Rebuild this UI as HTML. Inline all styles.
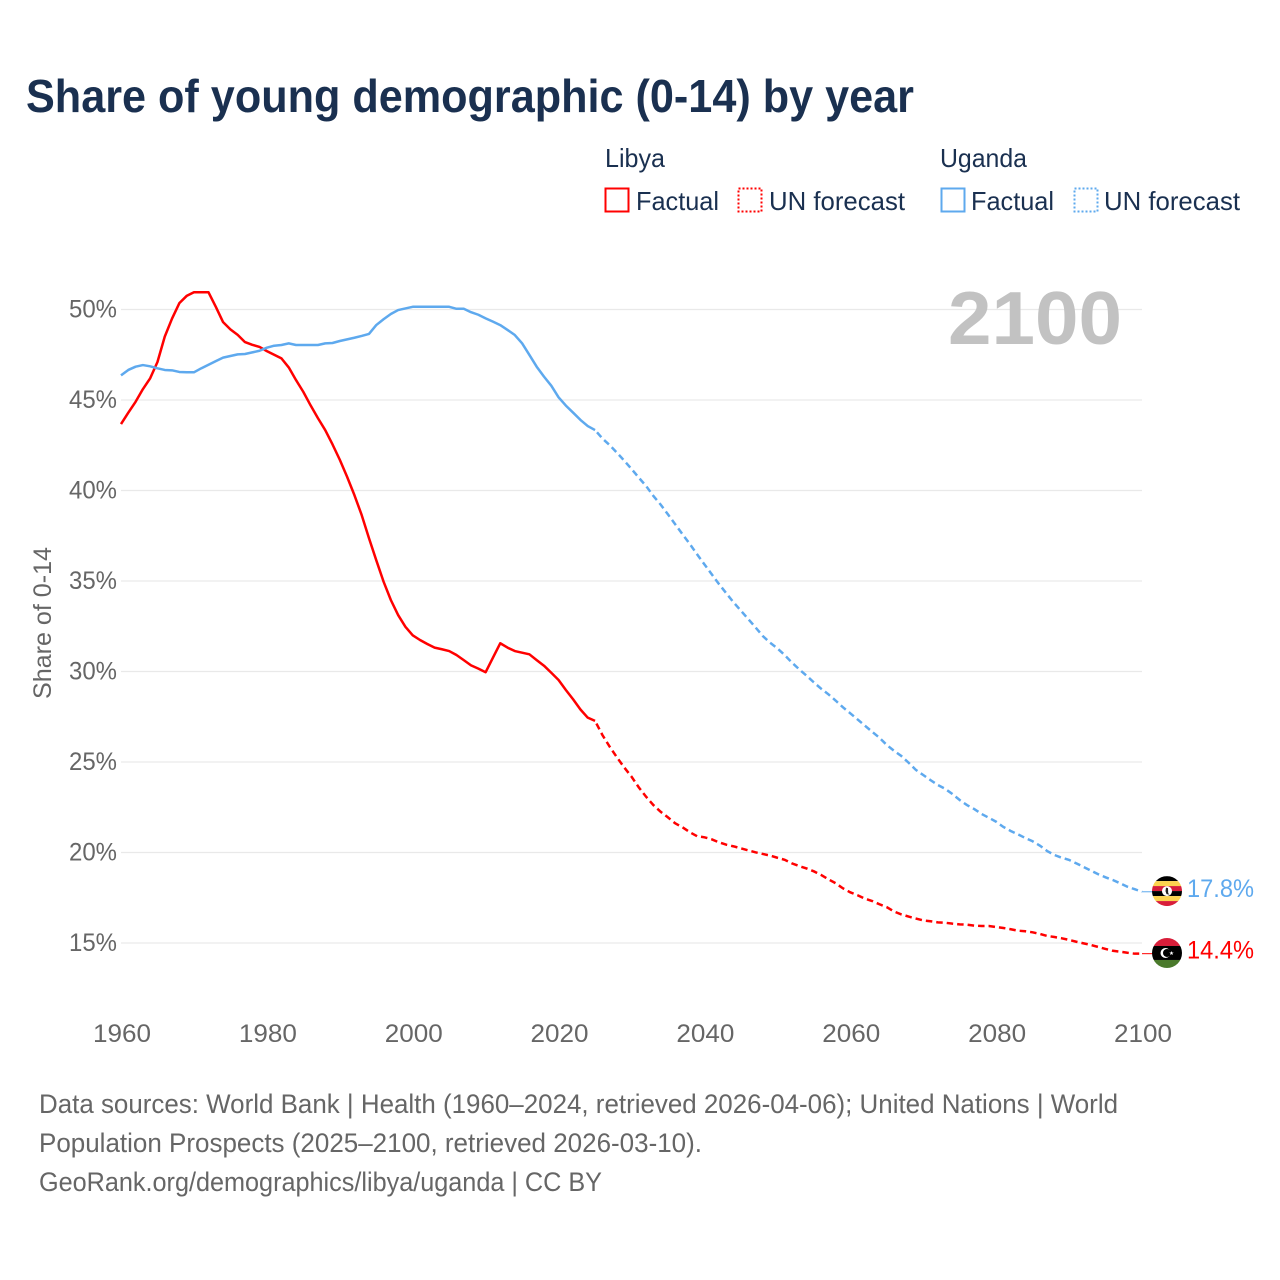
<!DOCTYPE html>
<html lang="en">
<head>
<meta charset="utf-8">
<title>Share of young demographic (0-14) by year</title>
<style>
html,body{margin:0;padding:0;background:#fff;}
#chart{display:block;width:1280px;height:1280px;font-family:"Liberation Sans",sans-serif;}
</style>
</head>
<body>
<svg id="chart" xmlns="http://www.w3.org/2000/svg" width="1280" height="1280" viewBox="0 0 1280 1280">
  <text x="26" y="112" font-size="46" font-weight="700" fill="#1a3050" textLength="888" lengthAdjust="spacingAndGlyphs">Share of young demographic (0-14) by year</text>

  <g font-size="26" fill="#1a3050">
    <text x="605" y="167" textLength="60" lengthAdjust="spacingAndGlyphs">Libya</text>
    <text x="940" y="167" textLength="87" lengthAdjust="spacingAndGlyphs">Uganda</text>
    <rect x="605.5" y="188.5" width="23" height="23" fill="none" stroke="#ff0000" stroke-width="2"/>
    <text x="636" y="210" textLength="83" lengthAdjust="spacingAndGlyphs">Factual</text>
    <rect x="738.5" y="188.5" width="23" height="23" fill="none" stroke="#ff0000" stroke-width="2" stroke-dasharray="2 2"/>
    <text x="769" y="210" textLength="136" lengthAdjust="spacingAndGlyphs">UN forecast</text>
    <rect x="941.5" y="188.5" width="23" height="23" fill="none" stroke="#5ea9ee" stroke-width="2"/>
    <text x="971" y="210" textLength="83" lengthAdjust="spacingAndGlyphs">Factual</text>
    <rect x="1074.5" y="188.5" width="23" height="23" fill="none" stroke="#5ea9ee" stroke-width="2" stroke-dasharray="2 2"/>
    <text x="1104" y="210" textLength="136" lengthAdjust="spacingAndGlyphs">UN forecast</text>
  </g>

  <g id="grid"></g>
  <text x="948" y="344" font-size="75" font-weight="700" fill="#c2c2c2" textLength="174" lengthAdjust="spacingAndGlyphs">2100</text>
  <g id="y-axis" font-size="25" fill="#666666" text-anchor="end"></g>
  <g id="x-axis" font-size="25" fill="#666666" text-anchor="middle"></g>
  <text transform="translate(51,623) rotate(-90)" font-size="25" fill="#666666" text-anchor="middle" textLength="152" lengthAdjust="spacingAndGlyphs">Share of 0-14</text>

  <g id="series" fill="none"></g>

  <g id="flag-uganda">
    <clipPath id="clip-ug"><circle r="15"/></clipPath>
    <g clip-path="url(#clip-ug)">
      <rect x="-15" y="-15" width="30" height="5" fill="#000"/>
      <rect x="-15" y="-10" width="30" height="5" fill="#fcd34f"/>
      <rect x="-15" y="-5" width="30" height="5" fill="#d81e3a"/>
      <rect x="-15" y="0" width="30" height="5" fill="#000"/>
      <rect x="-15" y="5" width="30" height="5" fill="#fcd34f"/>
      <rect x="-15" y="10" width="30" height="5" fill="#d81e3a"/>
      <circle r="5" fill="#fff"/>
      <path d="M-1 -3.5 L1 -3 L1.2 2 L2.5 3.5 L-0.5 3 L-1.5 0 Z" fill="#222"/>
    </g>
  </g>
  <g id="flag-libya">
    <clipPath id="clip-ly"><circle r="15"/></clipPath>
    <g clip-path="url(#clip-ly)">
      <rect x="-15" y="-15" width="30" height="8" fill="#d81e3a"/>
      <rect x="-15" y="-7" width="30" height="14" fill="#000"/>
      <rect x="-15" y="7" width="30" height="8" fill="#4a7a2c"/>
      <circle cx="-1.5" cy="0" r="5" fill="#fff"/>
      <circle cx="0" cy="0" r="4" fill="#000"/>
      <polygon points="4.5,-2 5.1,-0.5 6.7,-0.5 5.4,0.5 5.9,2 4.5,1.1 3.1,2 3.6,0.5 2.3,-0.5 3.9,-0.5" fill="#fff"/>
    </g>
  </g>
  <text id="end-label-uganda" x="1187" font-size="25" fill="#5ea9ee" textLength="67" lengthAdjust="spacingAndGlyphs">17.8%</text>
  <text id="end-label-libya" x="1187" font-size="25" fill="#ff0000" textLength="67" lengthAdjust="spacingAndGlyphs">14.4%</text>

  <g font-size="27" fill="#666666">
    <text x="39" y="1113" textLength="1079" lengthAdjust="spacingAndGlyphs">Data sources: World Bank | Health (1960–2024, retrieved 2026-04-06); United Nations | World</text>
    <text x="39" y="1152" textLength="663" lengthAdjust="spacingAndGlyphs">Population Prospects (2025–2100, retrieved 2026-03-10).</text>
    <text x="39" y="1191" textLength="563" lengthAdjust="spacingAndGlyphs">GeoRank.org/demographics/libya/uganda | CC BY</text>
  </g>
</svg>
<script>
const yTickValues = [50, 45, 40, 35, 30, 25, 20, 15];
const xTickYears = [1960, 1980, 2000, 2020, 2040, 2060, 2080, 2100];
const factualStartYear = 1960;
const forecastStartYear = 2025;

// Libya, 1960–2025
const libyaFactual = [
  43.67,44.3,44.9,45.6,46.2,47.1,48.5,49.5,50.35,50.75,
  50.95,50.95,50.95,50.15,49.3,48.9,48.6,48.2,48.05,47.93,
  47.7,47.5,47.3,46.8,46.1,45.45,44.7,44,43.34,42.55,
  41.7,40.76,39.75,38.65,37.37,36.15,34.97,33.95,33.12,32.47,
  32,31.74,31.52,31.32,31.23,31.13,30.91,30.63,30.34,30.16,
  29.96,30.76,31.56,31.32,31.13,31.04,30.95,30.63,30.32,29.93,
  29.53,28.98,28.46,27.9,27.45,27.27
];
// Libya, 2025–2100
const libyaForecast = [
  27.27,26.5,25.85,25.26,24.7,
  24.19,23.6,23.08,22.62,22.25,21.94,21.61,21.39,21.12,20.9,
  20.84,20.73,20.56,20.43,20.34,20.23,20.12,20.01,19.92,19.83,
  19.71,19.6,19.4,19.25,19.12,18.96,18.76,18.52,18.3,18.02,
  17.8,17.64,17.45,17.32,17.14,16.98,16.74,16.58,16.46,16.35,
  16.25,16.2,16.14,16.12,16.07,16.03,16.01,15.96,15.94,15.94,
  15.88,15.83,15.76,15.68,15.65,15.59,15.5,15.39,15.33,15.26,
  15.17,15.07,14.98,14.89,14.78,14.67,14.57,14.52,14.46,14.41,
  14.41
];
// Uganda, 1960–2025
const ugandaFactual = [
  46.36,46.66,46.84,46.93,46.86,46.75,46.66,46.64,46.55,46.53,
  46.53,46.75,46.95,47.15,47.34,47.43,47.52,47.54,47.63,47.72,
  47.89,48,48.04,48.13,48.04,48.04,48.04,48.04,48.13,48.15,
  48.26,48.35,48.44,48.54,48.65,49.14,49.46,49.75,49.97,50.06,
  50.15,50.15,50.15,50.15,50.15,50.15,50.04,50.04,49.85,49.71,
  49.51,49.33,49.14,48.87,48.59,48.13,47.49,46.84,46.29,45.79,
  45.15,44.69,44.3,43.9,43.56,43.34
];
// Uganda, 2025–2100
const ugandaForecast = [
  43.34,42.88,42.51,42.09,41.65,
  41.19,40.71,40.25,39.7,39.22,38.68,38.13,37.58,37.04,36.47,
  35.92,35.37,34.83,34.32,33.82,33.36,32.9,32.44,31.96,31.59,
  31.28,30.91,30.49,30.12,29.77,29.4,29.05,28.74,28.39,28.02,
  27.69,27.35,27.01,26.67,26.34,25.94,25.62,25.33,24.96,24.56,
  24.28,24,23.73,23.52,23.23,22.9,22.62,22.4,22.13,21.92,
  21.7,21.41,21.19,21,20.8,20.62,20.38,20.08,19.86,19.71,
  19.59,19.4,19.2,19,18.8,18.63,18.48,18.3,18.11,17.97,
  17.83
];

const NS = 'http://www.w3.org/2000/svg';
function xScale(year) { return 121 + (year - 1960) * (1142 - 121) / 140; }
function yScale(value) { return 309.5 + (50 - value) * (943 - 309.5) / 35; }
function pathFrom(startYear, values) {
  return values.map(function (v, i) {
    return (i ? 'L' : 'M') + xScale(startYear + i).toFixed(2) + ' ' + yScale(v).toFixed(2);
  }).join(' ');
}

const gridGroup = document.getElementById('grid');
const yAxisGroup = document.getElementById('y-axis');
yTickValues.forEach(function (v) {
  const line = document.createElementNS(NS, 'line');
  
  
  line.setAttribute('x1', xScale(1960));
  line.setAttribute('x2', xScale(2100));
  line.setAttribute('y1', yScale(v));
  line.setAttribute('y2', yScale(v));
  line.setAttribute('stroke', '#e9e9e9');
  line.setAttribute('stroke-width', '1.2');
  gridGroup.appendChild(line);

  const label = document.createElementNS(NS, 'text');
  
  
  label.setAttribute('x', 117);
  label.setAttribute('y', yScale(v) + 8);
  label.setAttribute('textLength', 48);
  label.setAttribute('lengthAdjust', 'spacingAndGlyphs');
  label.textContent = v + '%';
  yAxisGroup.appendChild(label);
});

const xAxisGroup = document.getElementById('x-axis');
xTickYears.forEach(function (year) {
  const label = document.createElementNS(NS, 'text');
  
  
  label.setAttribute('x', xScale(year) + 1);
  label.setAttribute('y', 1042);
  label.setAttribute('textLength', 58);
  label.setAttribute('lengthAdjust', 'spacingAndGlyphs');
  label.textContent = year;
  xAxisGroup.appendChild(label);
});

const seriesGroup = document.getElementById('series');

const libyaFactualPath = document.createElementNS(NS, 'path');


libyaFactualPath.setAttribute('d', pathFrom(factualStartYear, libyaFactual));
libyaFactualPath.setAttribute('stroke', '#ff0000');
libyaFactualPath.setAttribute('stroke-width', '2.5');
libyaFactualPath.setAttribute('stroke-linejoin', 'round');
seriesGroup.appendChild(libyaFactualPath);

const libyaForecastPath = document.createElementNS(NS, 'path');


libyaForecastPath.setAttribute('d', pathFrom(forecastStartYear, libyaForecast));
libyaForecastPath.setAttribute('stroke', '#ff0000');
libyaForecastPath.setAttribute('stroke-width', '2.5');
libyaForecastPath.setAttribute('stroke-dasharray', '6.5 4');
libyaForecastPath.setAttribute('stroke-dashoffset', '-3');
seriesGroup.appendChild(libyaForecastPath);

const ugandaFactualPath = document.createElementNS(NS, 'path');


ugandaFactualPath.setAttribute('d', pathFrom(factualStartYear, ugandaFactual));
ugandaFactualPath.setAttribute('stroke', '#5ea9ee');
ugandaFactualPath.setAttribute('stroke-width', '2.5');
ugandaFactualPath.setAttribute('stroke-linejoin', 'round');
seriesGroup.appendChild(ugandaFactualPath);

const ugandaForecastPath = document.createElementNS(NS, 'path');


ugandaForecastPath.setAttribute('d', pathFrom(forecastStartYear, ugandaForecast));
ugandaForecastPath.setAttribute('stroke', '#5ea9ee');
ugandaForecastPath.setAttribute('stroke-width', '2.5');
ugandaForecastPath.setAttribute('stroke-dasharray', '6.5 4');
ugandaForecastPath.setAttribute('stroke-dashoffset', '-3');
seriesGroup.appendChild(ugandaForecastPath);

const libyaEndValue = libyaForecast[libyaForecast.length - 1];
const ugandaEndValue = ugandaForecast[ugandaForecast.length - 1];

const libyaConnector = document.createElementNS(NS, 'line');


libyaConnector.setAttribute('x1', xScale(2100));
libyaConnector.setAttribute('x2', xScale(2100) + 12);
libyaConnector.setAttribute('y1', yScale(libyaEndValue));
libyaConnector.setAttribute('y2', yScale(libyaEndValue));
libyaConnector.setAttribute('stroke', '#ff0000');
libyaConnector.setAttribute('stroke-width', '1');
seriesGroup.appendChild(libyaConnector);

const ugandaConnector = document.createElementNS(NS, 'line');


ugandaConnector.setAttribute('x1', xScale(2100));
ugandaConnector.setAttribute('x2', xScale(2100) + 12);
ugandaConnector.setAttribute('y1', yScale(ugandaEndValue));
ugandaConnector.setAttribute('y2', yScale(ugandaEndValue));
ugandaConnector.setAttribute('stroke', '#5ea9ee');
ugandaConnector.setAttribute('stroke-width', '1');
seriesGroup.appendChild(ugandaConnector);

document.getElementById('flag-libya').setAttribute('transform', 'translate(' + (xScale(2100) + 25) + ',' + (yScale(libyaEndValue) - 0.7) + ')');
document.getElementById('flag-uganda').setAttribute('transform', 'translate(' + (xScale(2100) + 25) + ',' + (yScale(ugandaEndValue) - 0.7) + ')');
document.getElementById('end-label-libya').setAttribute('y', yScale(libyaEndValue) + 5);
document.getElementById('end-label-uganda').setAttribute('y', yScale(ugandaEndValue) + 5);
</script>
</body>
</html>
